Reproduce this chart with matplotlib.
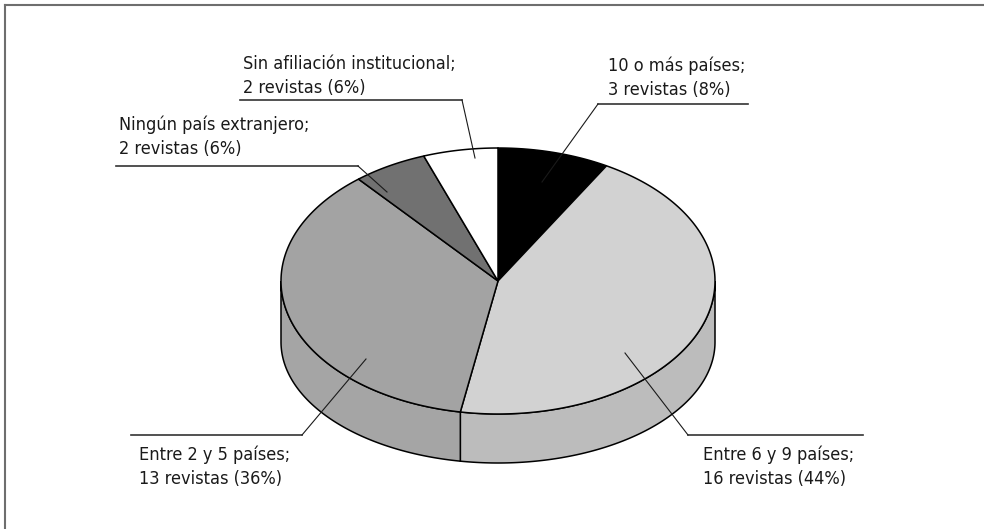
import numpy as np
import matplotlib
matplotlib.use("Agg")
import matplotlib.pyplot as plt
from matplotlib.patches import Polygon
from matplotlib import font_manager

plt.rcParams['font.family'] = ['DejaVu Sans']
plt.rcParams['font.stretch'] = 'condensed'

# data (clockwise from 12 o'clock)
categories = ["10 o más países", "Entre 6 y 9 países", "Entre 2 y 5 países",
              "Ningún país extranjero", "Sin afiliación institucional"]
revistas = [3, 16, 13, 2, 2]
percent = [8, 44, 36, 6, 6]
top_colors = ["#000000", "#d2d2d2", "#a3a3a3", "#717171", "#ffffff"]
side_colors = ["#000000", "#bcbcbc", "#a5a5a5", "#717171", "#ffffff"]

# pie geometry in pixels (y grows downwards)
cx, cy, rx, ry = 498, 281, 217, 133      # top face
bcy, bry = 342, 121                       # bottom rim (perspective)

# label layout: text x, first baseline, leader polyline
labels_layout = [
    (608, 71, [(748, 104), (598, 104), (542, 182)]),
    (703, 460, [(863, 435), (688, 435), (625, 353)]),
    (139, 460, [(131, 435), (302, 435), (366, 359)]),
    (119, 130, [(116, 166), (358, 166), (387, 192)]),
    (243, 69, [(240, 100), (462, 100), (475, 158)]),
]


def top_pt(t):
    return cx + rx * np.sin(t), cy - ry * np.cos(t)


def bot_pt(t):
    return cx + rx * np.sin(t), bcy - bry * np.cos(t)


fig = plt.figure(figsize=(9.84, 5.29), dpi=100)
ax = fig.add_axes([0, 0, 1, 1])
ax.set_xlim(0, 984)
ax.set_ylim(529, 0)
ax.axis("off")

total = sum(revistas)
bounds = np.concatenate([[0], np.cumsum(revistas)]) / total * 2 * np.pi

# sides (front half only: pi/2 .. 3pi/2)
for i in range(len(revistas)):
    a, b = max(bounds[i], np.pi / 2), min(bounds[i + 1], 3 * np.pi / 2)
    if b <= a:
        continue
    t = np.linspace(a, b, 120)
    tx, ty = top_pt(t)
    bx, by = bot_pt(t[::-1])
    pts = np.column_stack([np.concatenate([tx, bx]), np.concatenate([ty, by])])
    ax.add_patch(Polygon(pts, closed=True, fc=side_colors[i], ec="black", lw=1.1, zorder=1))

# top faces
for i in range(len(revistas)):
    t = np.linspace(bounds[i], bounds[i + 1], 200)
    tx, ty = top_pt(t)
    pts = np.column_stack([np.concatenate([[cx], tx]), np.concatenate([[cy], ty])])
    ax.add_patch(Polygon(pts, closed=True, fc=top_colors[i], ec="black", lw=1.1, zorder=2))

# labels with leader lines
for i, (lx, ly, line) in enumerate(labels_layout):
    ax.text(lx, ly, categories[i] + ";", fontsize=13, color="#1a1a1a", va="baseline", ha="left")
    ax.text(lx, ly + 24, "%d revistas (%d%%)" % (revistas[i], percent[i]),
            fontsize=13, color="#1a1a1a", va="baseline", ha="left")
    xs, ys = zip(*line)
    ax.plot(xs[:2], ys[:2], color="#333333", lw=1.2, zorder=3)
    ax.plot(xs[1:], ys[1:], color="#1a1a1a", lw=0.8, zorder=3)

# frame (top and left only)
ax.plot([5, 984], [5, 5], color="#6e6e6e", lw=1.5, clip_on=False)
ax.plot([5, 5], [5, 529], color="#6e6e6e", lw=1.5, clip_on=False)

fig.savefig("out.png", dpi=100)
